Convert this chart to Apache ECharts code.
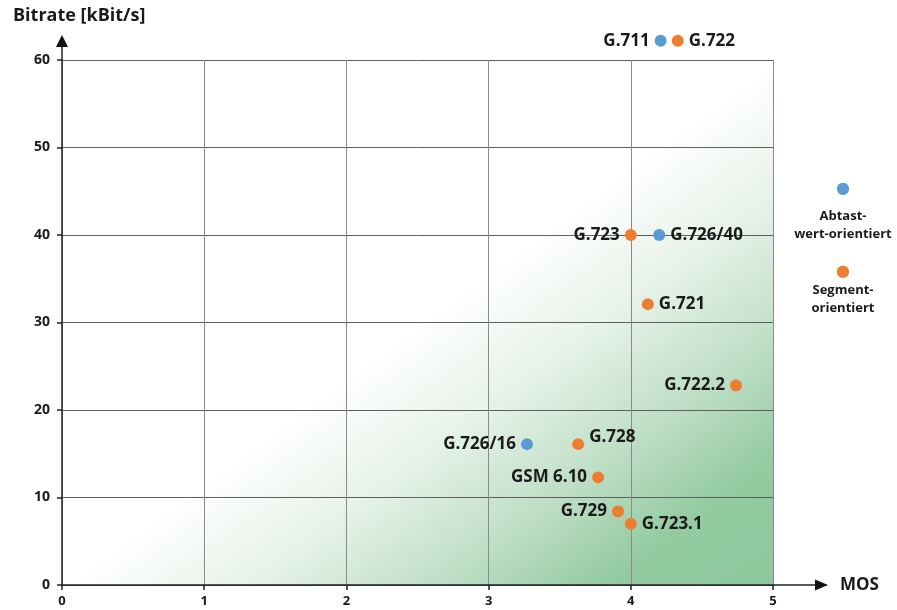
<!DOCTYPE html>
<html>
<head>
<meta charset="utf-8">
<script src="https://cdn.jsdelivr.net/npm/echarts@6.0.0/dist/echarts.min.js"></script>
<style>
html,body{margin:0;padding:0;background:#ffffff;}
#chart{width:897px;height:610px;}
</style>
</head>
<body>
<div id="chart"></div>
<script>
// ---- data ----
const xTicks = [0, 1, 2, 3, 4, 5];
const yTicks = [0, 10, 20, 30, 40, 50, 60];
const xAxisName = 'MOS';
const yAxisName = 'Bitrate [kBit/s]';
const seriesNames = ['Abtast-wert-orientiert', 'Segment-orientiert'];
const legendLines = [['Abtast-', 'wert-orientiert'], ['Segment-', 'orientiert']];

const sampleCodecs  = ['G.711', 'G.726/40', 'G.726/16'];
const sampleMos     = [4.21, 4.20, 3.27];
const sampleBitrate = [62.2, 40.0, 16.1];

const segmentCodecs  = ['G.722', 'G.723', 'G.721', 'G.722.2', 'G.728', 'GSM 6.10', 'G.729', 'G.723.1'];
const segmentMos     = [4.33, 4.00, 4.12, 4.74, 3.63, 3.77, 3.91, 4.00];
const segmentBitrate = [62.2, 40.0, 32.1, 22.8, 16.1, 12.3, 8.4, 7.0];

// ---- styling (not data) ----
const FONT = '"Open Sans", "Noto Sans", sans-serif';
const BLUE = '#5b9bd5';
const ORANGE = '#ed7d31';
const TEXT = '#1a1a1a';
const labelSide = {
  'G.711': 'left', 'G.726/40': 'right', 'G.726/16': 'left',
  'G.722': 'right', 'G.723': 'left', 'G.721': 'right', 'G.722.2': 'left',
  'G.728': 'right', 'GSM 6.10': 'left', 'G.729': 'left', 'G.723.1': 'right'
};
const labelShift = { 'G.728': [0, -7] };

function buildData(names, xs, ys) {
  return names.map((n, i) => ({
    name: n,
    value: [xs[i], ys[i]],
    label: { position: labelSide[n], offset: labelShift[n] || [0, 0] }
  }));
}

const GRID = { left: 62, top: 60, width: 711, height: 525 };
// gradient whose iso-lines run parallel to the bottom-left -> top-right diagonal
const w = GRID.width, h = GRID.height;
const k = 2 * w * h / (w * w + h * h);
const gx2 = h * k / w, gy2 = w * k / h;
const bgGradient = new echarts.graphic.LinearGradient(0, 0, gx2, gy2, [
  { offset: 0, color: '#ffffff' },
  { offset: 0.5, color: '#ffffff' },
  { offset: 0.63, color: '#e6f2e8' },
  { offset: 0.76, color: '#c0dfc7' },
  { offset: 0.88, color: '#94cba1' },
  { offset: 1, color: '#8cc79c' }
]);

const chart = echarts.init(document.getElementById('chart'), null, { renderer: 'canvas' });

const labelCommon = {
  show: true,
  formatter: '{b}',
  fontFamily: FONT,
  fontSize: 17,
  fontWeight: 'bold',
  color: TEXT,
  opacity: 1,
  distance: 5
};

const LEGEND_W = 108;
const LEGEND_CX = 838;

function legendBlock(idx, top, dotLineHeight) {
  const dotStyle = idx === 0 ? 'b' : 'o';
  return {
    orient: 'vertical',
    left: LEGEND_CX - LEGEND_W / 2 - 5,
    top: top,
    itemWidth: 0,
    itemHeight: 0,
    icon: 'circle',
    data: [seriesNames[idx]],
    formatter: function (name) {
      const i = seriesNames.indexOf(name);
      return '{' + dotStyle + '|●}\n' + legendLines[i].map(s => '{t|' + s + '}').join('\n');
    },
    textStyle: {
      fontFamily: FONT,
      color: TEXT,
      rich: {
        b: { color: BLUE, fontSize: 16, lineHeight: dotLineHeight, width: LEGEND_W, align: 'center', fontFamily: 'DejaVu Sans' },
        o: { color: ORANGE, fontSize: 16, lineHeight: dotLineHeight, width: LEGEND_W, align: 'center', fontFamily: 'DejaVu Sans' },
        t: { color: TEXT, fontSize: 13, fontWeight: 'bold', lineHeight: 18, width: LEGEND_W, align: 'center', fontFamily: FONT }
      }
    }
  };
}

const option = {
  animation: false,
  backgroundColor: '#ffffff',
  textStyle: { fontFamily: FONT },
  title: {
    text: yAxisName,
    left: 8,
    top: 2,
    textStyle: { fontFamily: FONT, fontSize: 18, fontWeight: 'bold', color: TEXT }
  },
  grid: Object.assign({
    show: true,
    borderWidth: 0,
    backgroundColor: bgGradient,
    containLabel: false,
    outerBoundsMode: 'none'
  }, GRID),
  xAxis: {
    type: 'value',
    min: xTicks[0],
    max: xTicks[xTicks.length - 1],
    interval: 1,
    name: xAxisName,
    nameLocation: 'end',
    nameGap: 67,
    nameTextStyle: { fontFamily: FONT, fontSize: 17, fontWeight: 'bold', color: TEXT, verticalAlign: 'middle' },
    axisLine: { show: true, onZero: false, lineStyle: { color: '#222222', width: 1.5 } },
    axisTick: { show: true, length: 5, lineStyle: { color: '#222222', width: 1.5 } },
    axisLabel: { fontFamily: FONT, fontSize: 13, fontWeight: 'bold', color: TEXT, margin: 10,
      formatter: v => xTicks.includes(v) ? String(v) : '' },
    splitLine: { show: true, lineStyle: { color: '#8a8a8a', width: 1 } }
  },
  yAxis: {
    type: 'value',
    min: yTicks[0],
    max: yTicks[yTicks.length - 1],
    interval: 10,
    axisLine: { show: true, onZero: false, lineStyle: { color: '#222222', width: 1.5 } },
    axisTick: { show: true, length: 5, lineStyle: { color: '#222222', width: 1.5 } },
    axisLabel: { fontFamily: FONT, fontSize: 14, fontWeight: 'bold', color: TEXT, margin: 12,
      formatter: v => yTicks.includes(v) ? String(v) : '' },
    splitLine: { show: true, lineStyle: { color: '#5e5e5e', width: 1 } }
  },
  legend: [
    legendBlock(0, 176, 36),
    legendBlock(1, 259, 18)
  ],
  series: [
    {
      name: seriesNames[0],
      type: 'scatter',
      clip: false,
      symbol: 'circle',
      symbolSize: 12,
      itemStyle: { color: BLUE, opacity: 1 },
      label: labelCommon,
      data: buildData(sampleCodecs, sampleMos, sampleBitrate),
      z: 5
    },
    {
      name: seriesNames[1],
      type: 'scatter',
      clip: false,
      symbol: 'circle',
      symbolSize: 12,
      itemStyle: { color: ORANGE, opacity: 1 },
      label: labelCommon,
      data: buildData(segmentCodecs, segmentMos, segmentBitrate),
      z: 5
    }
  ]
};

chart.setOption(option);

// axis arrows extending past the plot area
const xe = chart.convertToPixel({ gridIndex: 0 }, [xTicks[xTicks.length - 1], yTicks[0]]);
const ye = chart.convertToPixel({ gridIndex: 0 }, [xTicks[0], yTicks[yTicks.length - 1]]);
chart.setOption({
  graphic: [
    { type: 'line', shape: { x1: xe[0], y1: xe[1], x2: xe[0] + 43, y2: xe[1] }, style: { stroke: '#222222', lineWidth: 1.5 }, z: 10 },
    { type: 'polygon', shape: { points: [[xe[0] + 42, xe[1] - 5.5], [xe[0] + 55, xe[1]], [xe[0] + 42, xe[1] + 5.5]] }, style: { fill: '#111111' }, z: 10 },
    { type: 'line', shape: { x1: ye[0], y1: ye[1], x2: ye[0], y2: ye[1] - 14 }, style: { stroke: '#222222', lineWidth: 1.5 }, z: 10 },
    { type: 'polygon', shape: { points: [[ye[0] - 6, ye[1] - 13], [ye[0], ye[1] - 25], [ye[0] + 6, ye[1] - 13]] }, style: { fill: '#111111' }, z: 10 }
  ]
});
</script>
</body>
</html>
